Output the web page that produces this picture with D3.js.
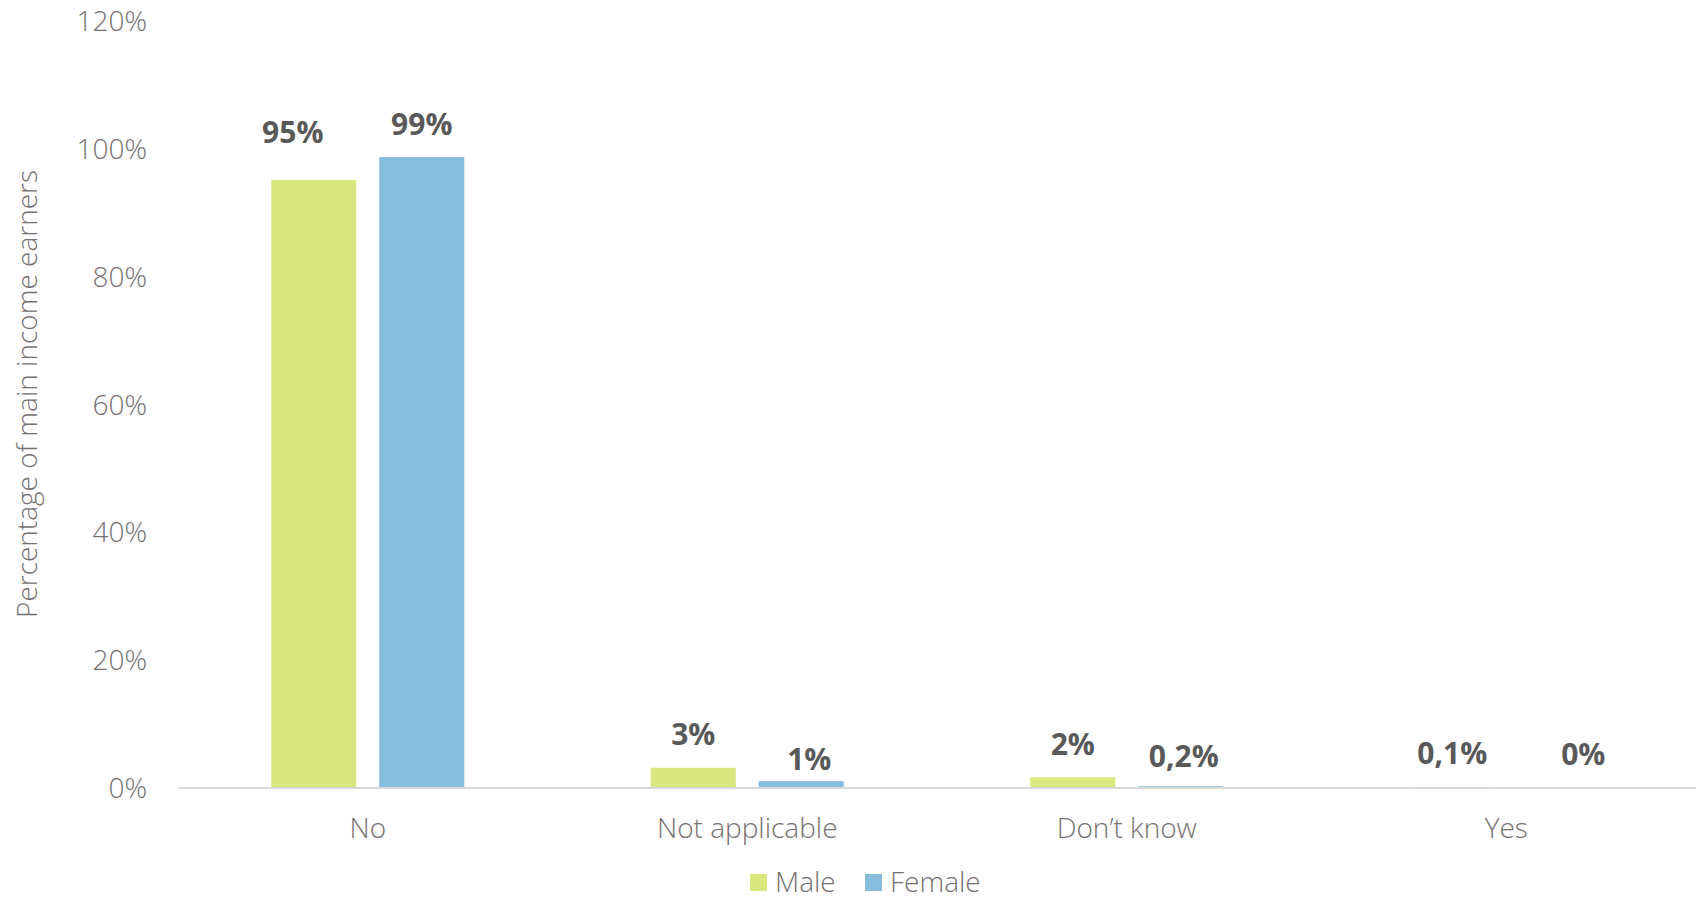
<!DOCTYPE html>
<html>
<head>
<meta charset="utf-8">
<script src="https://cdn.jsdelivr.net/npm/d3@7/dist/d3.min.js"></script>
<style>
  html, body { margin: 0; padding: 0; background: #ffffff; }
  svg { display: block; }
</style>
</head>
<body>
<svg id="chart" width="1696" height="901"></svg>
<script>
// ---- Data ----
const categories = ["No", "Not applicable", "Don\u2019t know", "Yes"];
const seriesNames = ["Male", "Female"];
const maleValues = [95.1, 3.1, 1.6, 0.1];
const femaleValues = [98.7, 1.0, 0.2, 0.0];
const maleLabels = ["95%", "3%", "2%", "0,1%"];
const femaleLabels = ["99%", "1%", "0,2%", "0%"];
const yTickValues = [0, 20, 40, 60, 80, 100, 120];
const yTitle = "Percentage of main income earners";

// ---- Style ----
const colors = { Male: "#D9E77E", Female: "#87BCDC" };
const W = 1696, H = 901;
const margin = { left: 178, right: 0, top: 21, bottom: 114 };
const fontFamily = "'Open Sans', 'DejaVu Sans', sans-serif";
const textGray = "#767171";

const svg = d3.select("#chart");

const y = d3.scaleLinear().domain([0, 120]).range([H - margin.bottom + 0.5, margin.top]);
const x0 = d3.scaleBand().domain(categories).range([margin.left, W - margin.right]).padding(0);
const groupW = 193;
const x1 = d3.scaleBand().domain(seriesNames)
  .range([(x0.bandwidth() - groupW) / 2, (x0.bandwidth() + groupW) / 2])
  .paddingInner(23 / 108).paddingOuter(0);

const data = categories.map((c, i) => ({
  cat: c,
  vals: [
    { s: "Male", v: maleValues[i], label: maleLabels[i], i },
    { s: "Female", v: femaleValues[i], label: femaleLabels[i], i }
  ]
}));

// Y axis (labels only)
const yAxis = d3.axisLeft(y).tickValues(yTickValues).tickFormat(d => d + "%").tickSize(0).tickPadding(0);
const gy = svg.append("g").attr("transform", `translate(147,0)`).call(yAxis);
gy.select(".domain").remove();
gy.selectAll("text")
  .attr("font-family", fontFamily)
  .attr("font-weight", 300)
  .attr("font-size", 28)
  .attr("fill", textGray)
  .attr("dy", "0.35em");

// Bars
const groups = svg.append("g").selectAll("g").data(data).join("g")
  .attr("transform", d => `translate(${x0(d.cat)},0)`);

groups.selectAll("rect").data(d => d.vals).join("rect")
  .attr("x", d => x1(d.s))
  .attr("width", x1.bandwidth())
  .attr("y", d => y(d.v))
  .attr("height", d => y(0) - y(d.v))
  .attr("fill", d => colors[d.s]);

// Data labels (with small nudges matching the reference layout)
const nudge = { "Male-0": [-21, -15], "Female-1": [8, 11], "Female-2": [3, 3], "Female-3": [23, 0] };
groups.selectAll("text.lbl").data(d => d.vals).join("text")
  .attr("class", "lbl")
  .attr("x", d => x1(d.s) + x1.bandwidth() / 2 + ((nudge[d.s + "-" + d.i] || [0, 0])[0]))
  .attr("y", d => y(d.v) - 34 + ((nudge[d.s + "-" + d.i] || [0, 0])[1]))
  .attr("text-anchor", "middle")
  .attr("dominant-baseline", "central")
  .attr("font-family", fontFamily)
  .attr("font-weight", 700)
  .attr("font-size", 30)
  .attr("fill", "#595959")
  .text(d => d.label);

// X axis baseline
const xAxis = d3.axisBottom(x0).tickSize(0).tickPadding(0);
const gx = svg.append("g").attr("transform", `translate(0,${y(0)})`).call(xAxis);
gx.select(".domain").attr("stroke", "#D9D9D9").attr("stroke-width", 2);
gx.selectAll("text")
  .attr("dy", 0)
  .attr("y", 39)
  .attr("dominant-baseline", "central")
  .attr("font-family", fontFamily)
  .attr("font-weight", 300)
  .attr("font-size", 28)
  .attr("fill", textGray);

// Y title
svg.append("text")
  .attr("transform", `translate(26,${394}) rotate(-90)`)
  .attr("text-anchor", "middle")
  .attr("dominant-baseline", "central")
  .attr("font-family", fontFamily)
  .attr("font-weight", 300)
  .attr("font-size", 28)
  .attr("fill", textGray)
  .text(yTitle);

// Legend
const legend = svg.append("g");
const legendX = [750, 865];
seriesNames.forEach((s, i) => {
  const g = legend.append("g").attr("transform", `translate(${legendX[i]},0)`);
  g.append("rect").attr("x", 0).attr("y", 874).attr("width", 17).attr("height", 17).attr("fill", colors[s]);
  g.append("text")
    .attr("x", 25).attr("y", 881)
    .attr("dominant-baseline", "central")
    .attr("font-family", fontFamily)
    .attr("font-weight", 300)
    .attr("font-size", 28)
    .attr("fill", textGray)
    .text(s);
});
</script>
</body>
</html>
